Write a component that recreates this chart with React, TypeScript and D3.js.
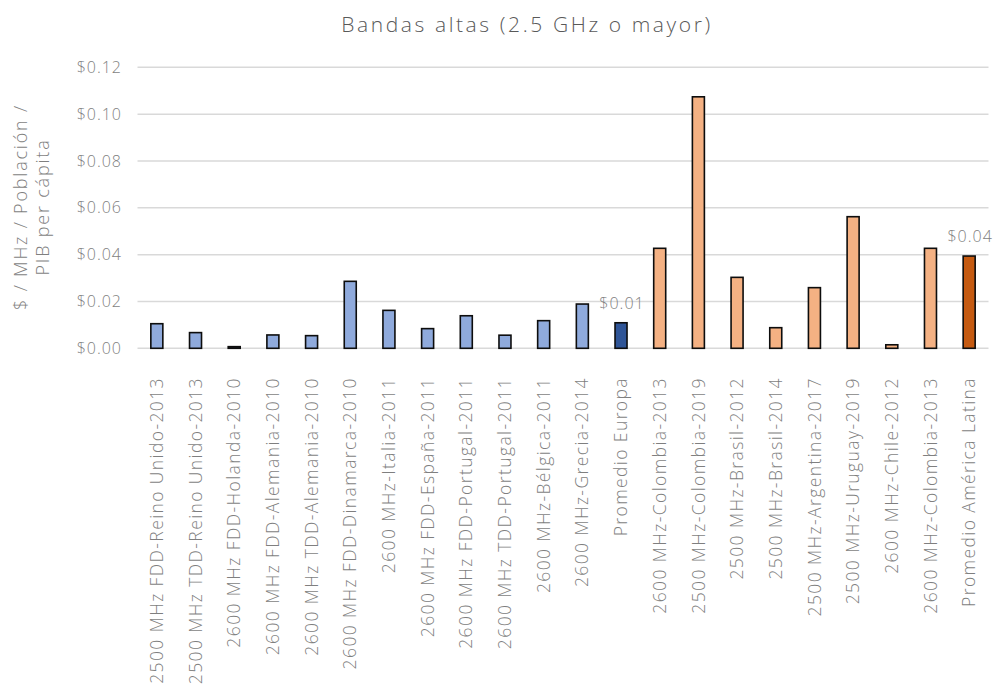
import React from "react";
import * as d3 from "d3";

const categories: string[] = [
  "2500 MHz FDD-Reino Unido-2013",
  "2500 MHz TDD-Reino Unido-2013",
  "2600 MHz FDD-Holanda-2010",
  "2600 MHz FDD-Alemania-2010",
  "2600 MHz TDD-Alemania-2010",
  "2600 MHz FDD-Dinamarca-2010",
  "2600 MHz-Italia-2011",
  "2600 MHz FDD-España-2011",
  "2600 MHz FDD-Portugal-2011",
  "2600 MHz TDD-Portugal-2011",
  "2600 MHz-Bélgica-2011",
  "2600 MHz-Grecia-2014",
  "Promedio Europa",
  "2600 MHz-Colombia-2013",
  "2500 MHz-Colombia-2019",
  "2500 MHz-Brasil-2012",
  "2500 MHz-Brasil-2014",
  "2500 MHz-Argentina-2017",
  "2500 MHz-Uruguay-2019",
  "2600 MHz-Chile-2012",
  "2600 MHz-Colombia-2013",
  "Promedio América Latina",
];

const values: number[] = [
  0.0105, 0.0067, 0.0007, 0.0057, 0.0054, 0.0286, 0.0162, 0.0084, 0.0139, 0.0056,
  0.0118, 0.0189, 0.0109, 0.0427, 0.1074, 0.0303, 0.0088, 0.0259, 0.0562, 0.0015,
  0.0427, 0.0394,
];

// group: 0 = Europa, 1 = Promedio Europa, 2 = América Latina, 3 = Promedio AL
const groups: number[] = [0, 0, 0, 0, 0, 0, 0, 0, 0, 0, 0, 0, 1, 2, 2, 2, 2, 2, 2, 2, 2, 3];
const groupColors: string[] = ["#8FAADC", "#2F5597", "#F4B183", "#C55A11"];

const labelled: Record<number, string> = { 12: "$0.01", 21: "$0.04" };

const yTicks: number[] = [0, 0.02, 0.04, 0.06, 0.08, 0.1, 0.12];

const title = "Bandas altas (2.5 GHz o mayor)";
const yTitle: string[] = ["$ / MHz / Población /", "PIB per cápita"];

const FONT = "'Open Sans', Lato, sans-serif";
const WEIGHT = 300;

export default function App() {
  const W = 997;
  const H = 685;
  const left = 137.5;
  const right = 988.5;
  const top = 67.3;
  const bottom = 348.3;

  const x = d3.scaleBand<number>().domain(d3.range(categories.length)).range([left, right]).paddingInner(0).paddingOuter(0);
  const y = d3.scaleLinear().domain([0, 0.12]).range([bottom, top]);
  const barW = 12;
  const fmt = (v: number) => "$" + d3.format(".2f")(v);

  return (
    <svg
      width={W}
      height={H}
      style={{ position: "absolute", left: 0, top: 0, background: "#fff" }}
      fontFamily={FONT}
    >
      <rect x={0} y={0} width={W} height={H} fill="#fff" />
      <text x={527} y={32} textAnchor="middle" fontSize={21} fill="#595959" fontWeight={WEIGHT} letterSpacing={2.6}>
        {title}
      </text>
      {yTicks.map((t) => (
        <g key={t}>
          <line x1={left} x2={right} y1={y(t)} y2={y(t)} stroke="#D9D9D9" strokeWidth={1.5} />
          <text x={122} y={y(t)} dy="0.35em" textAnchor="end" fontSize={16} fill="#7F7F7F" fontWeight={WEIGHT} letterSpacing={1}>
            {fmt(t)}
          </text>
        </g>
      ))}
      <g transform={`translate(0, 207) rotate(-90)`}>
        {yTitle.map((l, i) => (
          <text key={i} x={0} y={27 + i * 22} textAnchor="middle" fontSize={18} fill="#7F7F7F" fontWeight={WEIGHT} letterSpacing={1.8}>
            {l}
          </text>
        ))}
      </g>
      {values.map((v, i) => {
        const cx = (x(i) as number) + x.bandwidth() / 2;
        return (
          <rect
            key={i}
            x={cx - barW / 2}
            y={y(v)}
            width={barW}
            height={bottom - y(v)}
            fill={groupColors[groups[i]]}
            stroke="#0D0D0D"
            strokeWidth={1.6}
          />
        );
      })}
      {values.map((v, i) =>
        labelled[i] ? (
          <text
            key={"l" + i}
            x={(x(i) as number) + x.bandwidth() / 2 + 1}
            y={y(v) - 14}
            textAnchor="middle"
            fontSize={16}
            fill="#7F7F7F"
            fontWeight={WEIGHT}
            letterSpacing={1}
          >
            {labelled[i]}
          </text>
        ) : null
      )}
      {categories.map((c, i) => {
        const cx = (x(i) as number) + x.bandwidth() / 2;
        return (
          <text
            key={"c" + i}
            transform={`translate(${cx}, 377) rotate(-90)`}
            dy="0.35em"
            textAnchor="end"
            fontSize={17.5}
            fill="#7F7F7F"
            fontWeight={WEIGHT}
            letterSpacing={1.4}
          >
            {c}
          </text>
        );
      })}
    </svg>
  );
}
